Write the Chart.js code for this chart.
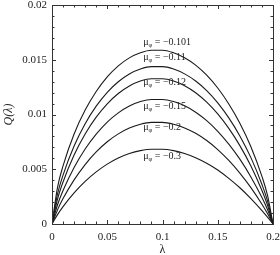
<!DOCTYPE html>
<html><head><meta charset="utf-8">
<script src="https://cdn.jsdelivr.net/npm/chart.js@4/dist/chart.umd.min.js"></script>
<style>html,body{margin:0;padding:0;background:#fff}#wrap{width:280px;height:255px;position:relative}</style>
</head><body><div id="wrap"><canvas id="c"></canvas></div>
<script>
const lambda = [0, 0.005, 0.01, 0.02, 0.03, 0.04, 0.05, 0.06, 0.07, 0.08, 0.09, 0.10, 0.11, 0.12, 0.13, 0.14, 0.15, 0.16, 0.17, 0.18, 0.19, 0.195, 0.2];
const muLabels = ["\u22120.101", "\u22120.11", "\u22120.12", "\u22120.15", "\u22120.2", "\u22120.3"];
const q101 = [0, 0.00335, 0.00531, 0.00822, 0.01040, 0.01210, 0.01343, 0.01444, 0.01517, 0.01564, 0.01587, 0.01587, 0.01564, 0.01519, 0.01451, 0.01359, 0.01242, 0.01096, 0.00920, 0.00706, 0.00435, 0.00263, 0];
const q11  = [0, 0.00274, 0.00447, 0.00712, 0.00916, 0.01076, 0.01203, 0.01299, 0.01370, 0.01415, 0.01437, 0.01437, 0.01415, 0.01371, 0.01306, 0.01218, 0.01106, 0.00969, 0.00804, 0.00606, 0.00361, 0.00212, 0];
const q12  = [0, 0.00228, 0.00384, 0.00630, 0.00822, 0.00976, 0.01098, 0.01192, 0.01261, 0.01306, 0.01327, 0.01327, 0.01306, 0.01263, 0.01199, 0.01113, 0.01005, 0.00873, 0.00716, 0.00530, 0.00306, 0.00173, 0];
const q15  = [0, 0.00176, 0.00306, 0.00516, 0.00685, 0.00821, 0.00931, 0.01015, 0.01078, 0.01118, 0.01137, 0.01137, 0.01118, 0.01079, 0.01021, 0.00944, 0.00847, 0.00730, 0.00592, 0.00430, 0.00241, 0.00132, 0];
const q2   = [0, 0.00129, 0.00232, 0.00403, 0.00543, 0.00658, 0.00751, 0.00823, 0.00876, 0.00911, 0.00928, 0.00928, 0.00911, 0.00877, 0.00828, 0.00762, 0.00680, 0.00581, 0.00465, 0.00332, 0.00180, 0.00095, 0];
const q3   = [0, 0.00086, 0.00159, 0.00284, 0.00389, 0.00476, 0.00547, 0.00602, 0.00643, 0.00670, 0.00683, 0.00683, 0.00670, 0.00644, 0.00606, 0.00555, 0.00493, 0.00417, 0.00331, 0.00232, 0.00122, 0.00062, 0];
const xTicks = [0, 0.05, 0.1, 0.15, 0.2];
const yTicks = [0, 0.005, 0.01, 0.015, 0.02];

const series = [q101, q11, q12, q15, q2, q3];
// label anchor (left edge lambda, centre Q) for each curve label
const labelAnchors = [[0.0825, 0.01662], [0.0825, 0.01525], [0.0825, 0.01297], [0.0825, 0.01078], [0.0825, 0.00886], [0.0825, 0.00621]];

const SERIF = '"Liberation Serif", "DejaVu Serif", serif';

const frameTicks = {
  id: 'frameTicks',
  afterDatasetsDraw(chart) {
    const {ctx, chartArea: a, scales: {x, y}} = chart;
    ctx.save();
    ctx.strokeStyle = '#333';
    ctx.lineWidth = 1;
    ctx.strokeRect(Math.round(a.left) + 0.5, Math.round(a.top) + 0.5, Math.round(a.right - a.left), Math.round(a.bottom - a.top));
    ctx.beginPath();
    for (let i = 0; i <= 20; i++) {
      const v = i * 0.01;
      const px = Math.round(x.getPixelForValue(v)) + 0.5;
      const len = (i % 5 === 0) ? 4 : 2.5;
      ctx.moveTo(px, a.bottom); ctx.lineTo(px, a.bottom - len);
      ctx.moveTo(px, a.top); ctx.lineTo(px, a.top + len);
    }
    for (let i = 0; i <= 20; i++) {
      const v = i * 0.001;
      const py = Math.round(y.getPixelForValue(v)) + 0.5;
      const len = (i % 5 === 0) ? 4 : 2.5;
      ctx.moveTo(a.left, py); ctx.lineTo(a.left + len, py);
      ctx.moveTo(a.right, py); ctx.lineTo(a.right - len, py);
    }
    ctx.stroke();
    // curve labels
    ctx.fillStyle = '#222';
    ctx.textBaseline = 'middle';
    labelAnchors.forEach((p, i) => {
      let px = x.getPixelForValue(p[0]);
      const py = y.getPixelForValue(p[1]);
      ctx.font = '10px ' + SERIF;
      ctx.fillText('\u03bc', px, py);
      px += ctx.measureText('\u03bc').width;
      ctx.font = '6.5px ' + SERIF;
      ctx.fillText('\u03c6', px, py + 3);
      px += ctx.measureText('\u03c6').width;
      ctx.font = '10px ' + SERIF;
      ctx.fillText(' = ' + muLabels[i], px, py);
    });
    ctx.restore();
  }
};

new Chart(document.getElementById('c'), {
  type: 'line',
  data: {
    datasets: series.map((s, i) => ({
      label: muLabels[i],
      data: lambda.map((l, k) => ({x: l, y: s[k]})),
      borderColor: '#1a1a1a',
      borderWidth: 1.1,
      pointRadius: 0,
      fill: false,
      cubicInterpolationMode: 'monotone'
    }))
  },
  options: {
    responsive: true,
    maintainAspectRatio: false,
    animation: false,
    devicePixelRatio: 1,
    layout: {padding: {top: 5, right: 7, left: 0, bottom: 0}},
    plugins: {legend: {display: false}, tooltip: {enabled: false}},
    scales: {
      x: {
        type: 'linear', min: 0, max: 0.2,
        afterBuildTicks: s => { s.ticks = xTicks.map(v => ({value: v})); },
        afterFit: s => { s.height = 31; s.paddingLeft = 0; s.paddingRight = 0; },
        grid: {display: false, drawTicks: false},
        border: {display: false},
        ticks: {padding: 7, color: '#222', maxRotation: 0, autoSkip: false,
          font: {family: SERIF, size: 11},
          callback: v => String(+Number(v).toFixed(3))},
        title: {display: true, text: '\u03bb', color: '#222', font: {family: SERIF, size: 12}, padding: {top: 0, bottom: -2}}
      },
      y: {
        type: 'linear', min: 0, max: 0.02,
        afterBuildTicks: s => { s.ticks = yTicks.map(v => ({value: v})); },
        afterFit: s => { s.width = 52; s.paddingTop = 0; s.paddingBottom = 0; },
        grid: {display: false, drawTicks: false},
        border: {display: false},
        ticks: {padding: 5, color: '#222', autoSkip: false,
          font: {family: SERIF, size: 11},
          callback: v => String(+Number(v).toFixed(4))},
        title: {display: true, text: 'Q(\u03bb)', color: '#222', font: {family: SERIF, size: 12, style: 'italic'}, padding: {top: 2, bottom: 0}}
      }
    }
  },
  plugins: [frameTicks]
});
</script>
</body></html>
